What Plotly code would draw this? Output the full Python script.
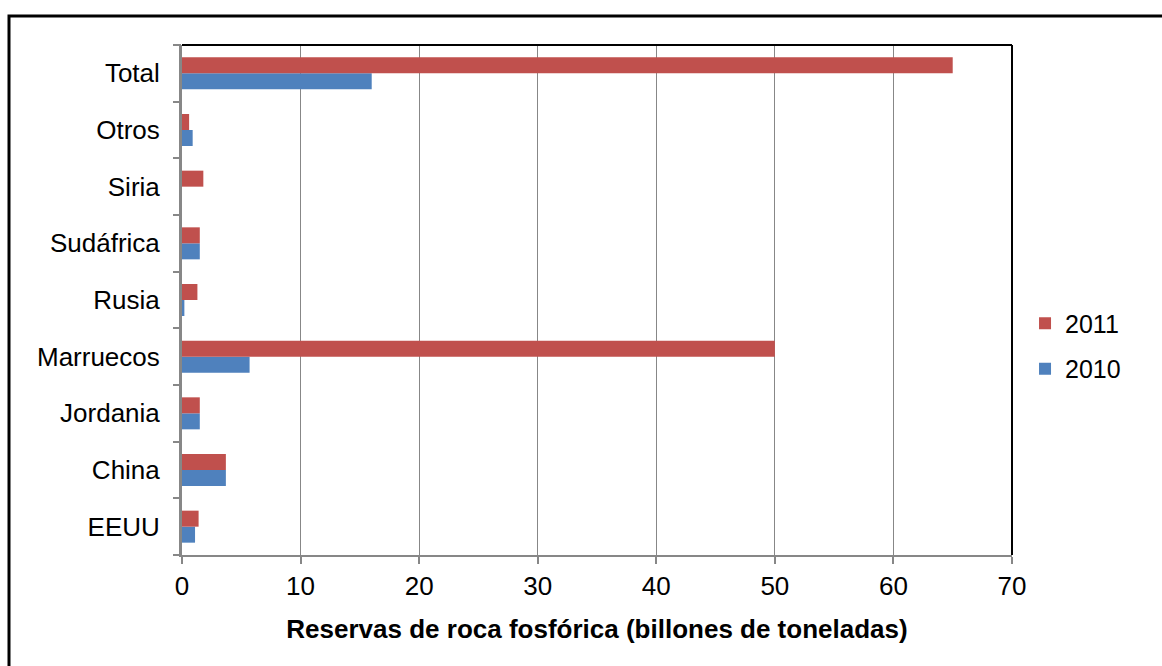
import plotly.graph_objects as go

# Phosphate rock reserves by country (billion tonnes)
countries = ["EEUU", "China", "Jordania", "Marruecos", "Rusia",
             "Sudáfrica", "Siria", "Otros", "Total"]
reservas_2010 = [1.1, 3.7, 1.5, 5.7, 0.2, 1.5, 0.0, 0.9, 16.0]
reservas_2011 = [1.4, 3.7, 1.5, 50.0, 1.3, 1.5, 1.8, 0.6, 65.0]
x_ticks = [0, 10, 20, 30, 40, 50, 60, 70]

RED = "#C0504D"
BLUE = "#4F81BD"
GRAY = "#878787"
FONT = "Arial, Liberation Sans, sans-serif"

fig = go.Figure()
fig.add_trace(go.Bar(y=countries, x=reservas_2010, orientation="h",
                     name="2010", legendgroup="g2010", legendrank=2,
                     marker=dict(color=BLUE, line=dict(width=0))))
fig.add_trace(go.Bar(y=countries, x=reservas_2011, orientation="h",
                     name="2011", legendgroup="g2011", legendrank=1,
                     marker=dict(color=RED, line=dict(width=0))))
# invisible trace to drive the boundary tick marks on the secondary y axis
fig.add_trace(go.Scatter(x=[None], y=[None], yaxis="y2", showlegend=False,
                         hoverinfo="skip"))

fig.update_layout(
    width=1162, height=666,
    margin=dict(l=182, r=150, t=45, b=111),
    paper_bgcolor="white", plot_bgcolor="white",
    font=dict(family=FONT, size=26, color="black"),
    barmode="group", bargap=0.435, bargroupgap=0,
    showlegend=True,
    legend=dict(traceorder="grouped", x=1.0157, y=0.41,
                xanchor="left", yanchor="middle", font=dict(size=25),
                itemwidth=30, tracegroupgap=10),
    xaxis=dict(range=[0, 70], tickvals=x_ticks, showgrid=True,
               gridcolor=GRAY, gridwidth=1.2, zeroline=False,
               showline=True, linecolor=GRAY, linewidth=2,
               ticks="outside", ticklen=7, tickcolor=GRAY, tickwidth=2,
               tickfont=dict(size=26),
               title=dict(text="<b>Reservas de roca fosfórica (billones de toneladas)</b>",
                          font=dict(size=26), standoff=20),
               mirror=False),
    yaxis=dict(type="category", categoryorder="array", categoryarray=countries,
               range=[-0.5, 8.5], showgrid=False, zeroline=False,
               showline=True, linecolor=GRAY, linewidth=3,
               ticks="", ticklabelstandoff=14, tickfont=dict(size=26)),
    yaxis2=dict(overlaying="y", range=[-0.5, 8.5],
                tickvals=[i - 0.5 for i in range(10)], showticklabels=False,
                ticks="outside", ticklen=8, tickcolor=GRAY, tickwidth=2,
                showgrid=False, zeroline=False, showline=False, side="left"),
    shapes=[
        # dark frame on the top and right of the plot area
        dict(type="line", xref="paper", yref="paper", x0=0, x1=1, y0=1, y1=1,
             line=dict(color="black", width=2)),
        dict(type="line", xref="paper", yref="paper", x0=1, x1=1, y0=0, y1=1,
             line=dict(color="black", width=2)),
        # outer chart border
        dict(type="rect", xref="paper", yref="paper",
             x0=(9 - 182) / 830, x1=1.4, y0=-0.5, y1=1 + (45 - 16) / 510,
             line=dict(color="black", width=3), fillcolor="rgba(0,0,0,0)",
             layer="below"),
    ],
)

fig.write_html("out.html")
